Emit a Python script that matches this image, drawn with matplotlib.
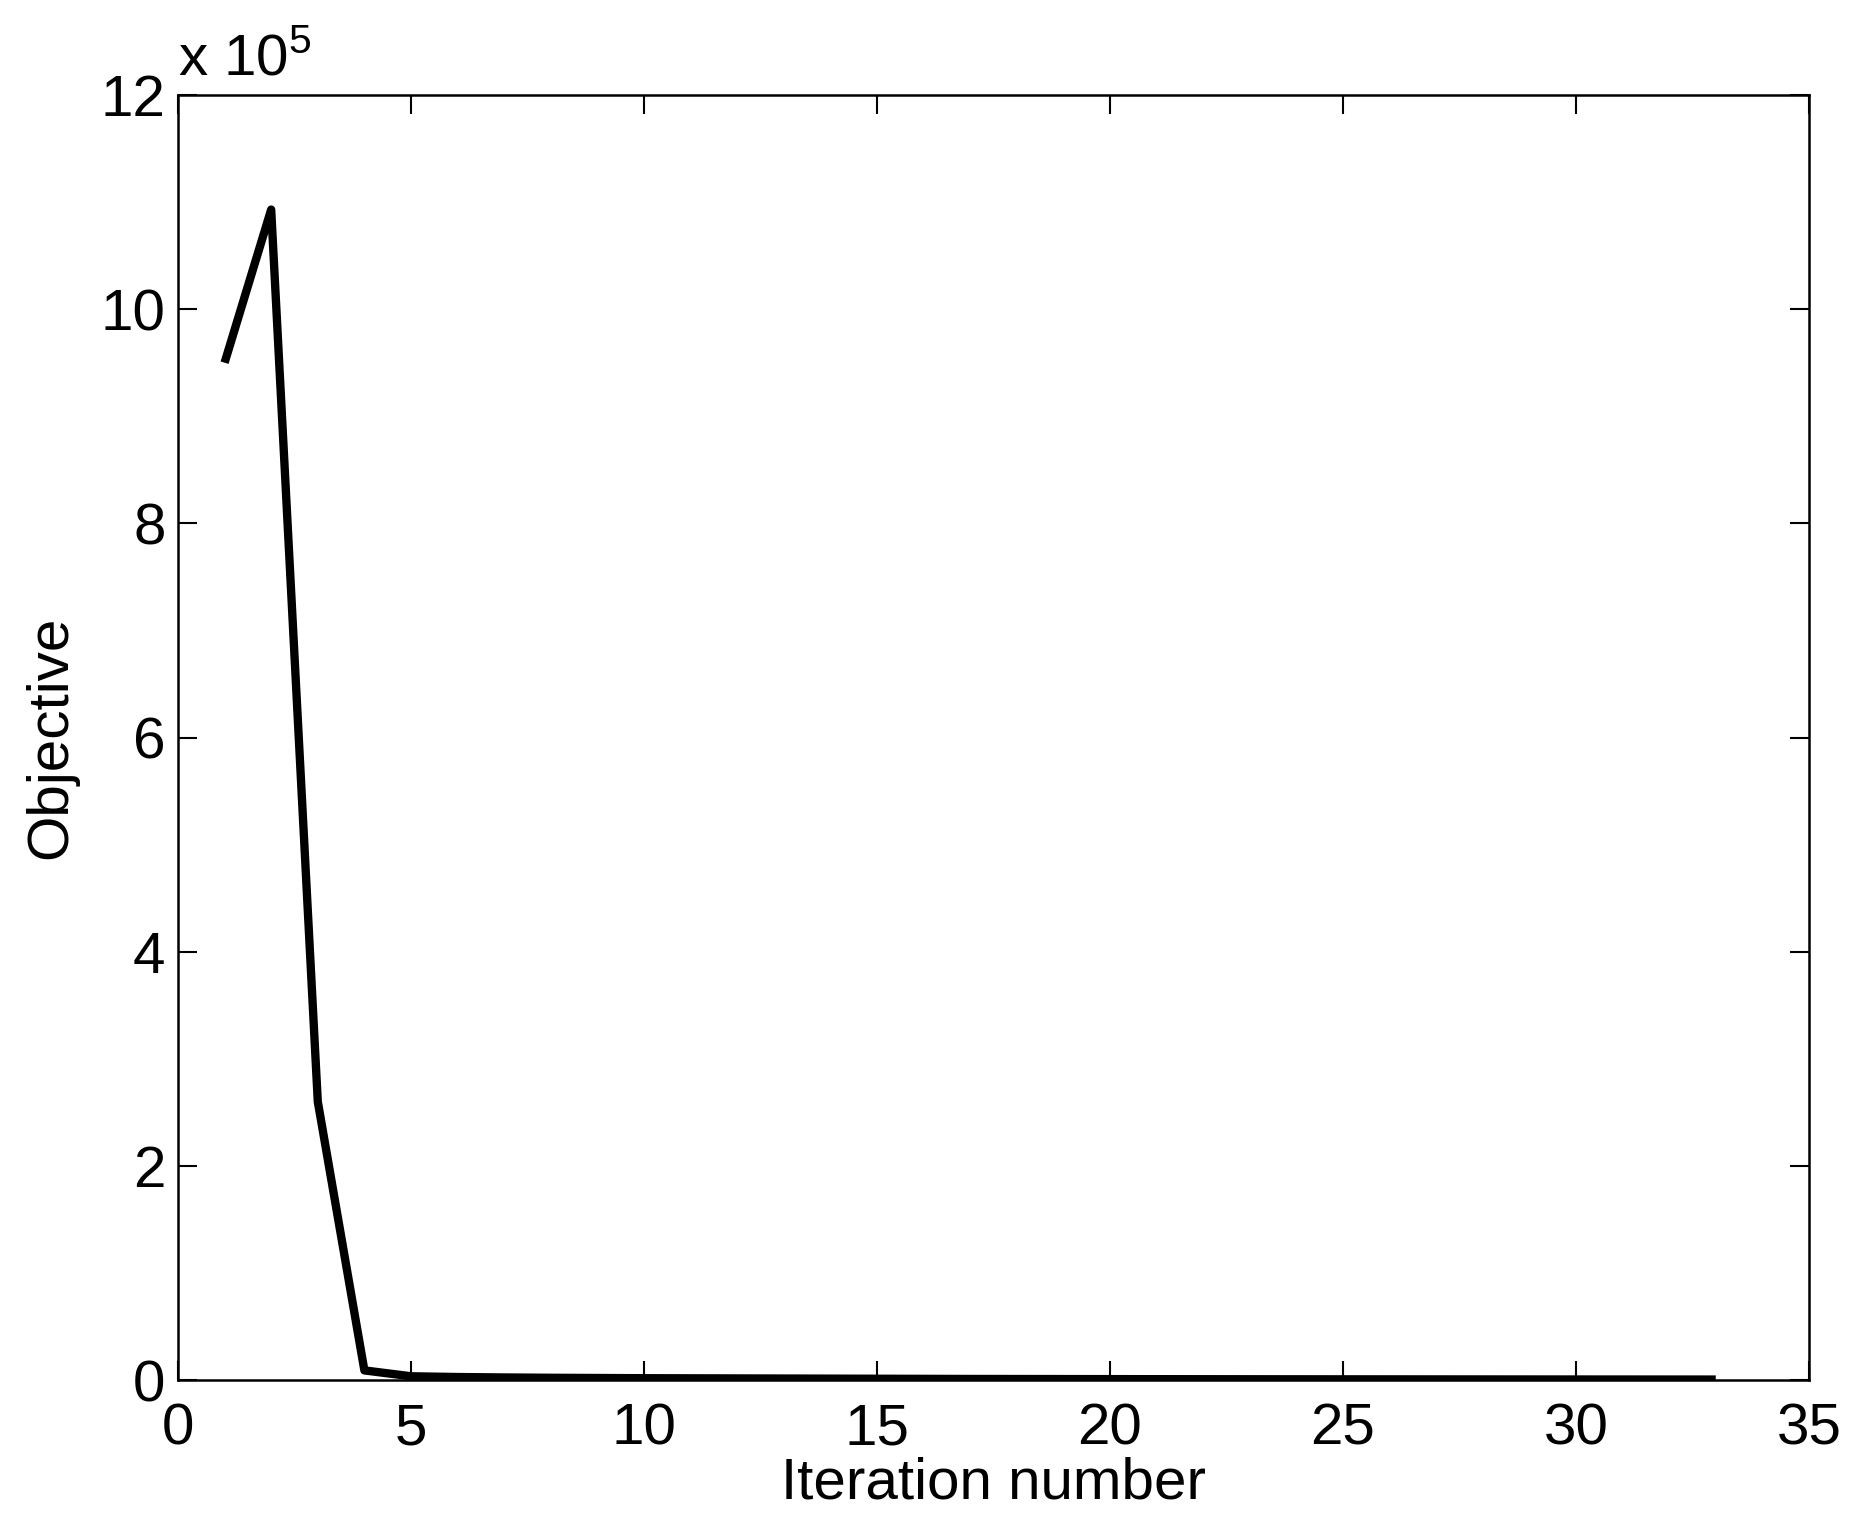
import matplotlib
matplotlib.use("Agg")
import matplotlib.pyplot as plt
from matplotlib.ticker import FuncFormatter

plt.rcParams['font.family'] = ['Liberation Sans', 'DejaVu Sans']
plt.rcParams['mathtext.fontset'] = 'custom'
plt.rcParams['mathtext.rm'] = 'Liberation Sans'

iterations = list(range(1, 34))
objective = [9.50e5, 10.93e5, 2.60e5, 9.0e3, 3.5e3, 2.8e3, 2.4e3, 2.1e3, 1.9e3, 1.7e3,
             1.6e3, 1.5e3, 1.4e3, 1.3e3, 1.2e3, 1.1e3, 1.0e3, 950, 900, 850,
             800, 760, 720, 680, 650, 620, 590, 560, 530, 500, 480, 460, 440]
xticks = [0, 5, 10, 15, 20, 25, 30, 35]
yticks = [0, 2e5, 4e5, 6e5, 8e5, 10e5, 12e5]

fig = plt.figure(figsize=(18.54, 15.32), dpi=100)
ax = fig.add_axes([0.096, 0.0992, 0.8797, 0.8388])
ax.plot(iterations, objective, color='black', linewidth=6.0, solid_joinstyle='round',
        solid_capstyle='butt')
ax.set_xlim(0, 35)
ax.set_ylim(0, 12e5)
ax.set_xticks(xticks)
ax.set_yticks(yticks)
ax.yaxis.set_major_formatter(FuncFormatter(lambda v, p: f"{v/1e5:g}"))
ax.tick_params(direction='in', length=14, width=1.5, top=True, right=True,
               labelsize=42)
ax.tick_params(axis='y', pad=9)
ax.tick_params(axis='x', pad=16)
for s in ax.spines.values():
    s.set_linewidth(1.8)
ax.set_xlabel('Iteration number', fontsize=42, labelpad=0)
ax.set_ylabel('Objective', fontsize=42, labelpad=16)
ax.text(0.0, 1.006, r'x 10$^{5}$', transform=ax.transAxes, fontsize=42,
        ha='left', va='bottom')
fig.savefig('out.png', dpi=100, facecolor='white')
